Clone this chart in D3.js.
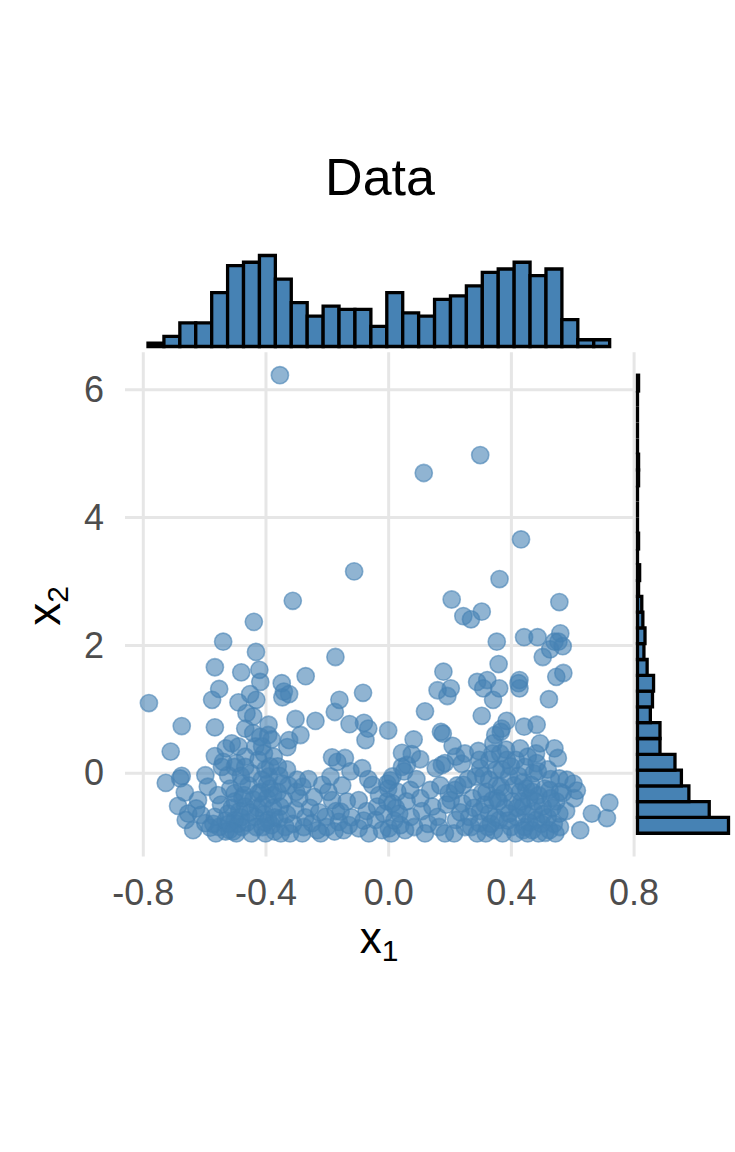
<!DOCTYPE html>
<html><head><meta charset="utf-8">
<script src="https://cdn.jsdelivr.net/npm/d3@7"></script>
<style>body{margin:0;background:#fff}</style>
</head><body>
<svg id="chart" width="735" height="1152"></svg>
<script>
const titleText = "Data";
const xTicks = [-0.8, -0.4, 0.0, 0.4, 0.8];
const xTickLabels = ["-0.8", "-0.4", "0.0", "0.4", "0.8"];
const yTicks = [0, 2, 4, 6];
const yTickLabels = ["0", "2", "4", "6"];

const pointsLeft = [
[-0.78,1.09],
[-0.725,-0.16],[-0.709,0.33],[-0.685,-0.52],
[-0.673,0.73],[-0.673,-0.05],[-0.678,-0.09],[-0.663,-0.31],[-0.652,-0.64],[-0.636,-0.90],[-0.66,-0.74],
[-0.596,-0.04],[-0.588,-0.22],[-0.62,-0.43],[-0.626,-0.56],[-0.596,-0.79],[-0.61,-0.66],[-0.58,-0.86],
[-0.565,1.65],[-0.551,1.31],[-0.574,1.14],[-0.565,0.71],[-0.565,0.26],[-0.538,2.05],[-0.538,0.17],[-0.542,0.09],[-0.565,-0.69],[-0.551,-0.85],[-0.562,-0.95],[-0.545,-0.50],[-0.53,-0.75],[-0.57,-0.80],[-0.555,-0.35],[-0.53,-0.92],[-0.529,0.38],
[-0.51,0.46],[-0.488,0.41],[-0.488,1.10],[-0.479,1.57],[-0.522,-0.04],[-0.5,0.09],[-0.5,-0.32],[-0.477,-0.17],[-0.522,-0.64],[-0.5,-0.74],[-0.518,-0.90],[-0.477,-0.85],[-0.495,-0.95],[-0.51,-0.55],[-0.485,-0.60],[-0.5,-0.45],[-0.515,-0.25],[-0.49,-0.80],[-0.475,-0.40],[-0.52,-0.80],[-0.505,-0.92],[-0.48,-0.70],[-0.495,0.15],[-0.48,-0.05],
[-0.462,0.93],[-0.44,0.88],[-0.45,1.23],[-0.43,1.14],[-0.466,0.69],[-0.44,0.62],[-0.466,0.25],[-0.433,0.41],[-0.438,2.36],[-0.431,1.89],[-0.42,1.61],[-0.466,0.09],[-0.446,-0.01],[-0.423,0.20],[-0.423,-0.32],[-0.466,-0.53],[-0.433,-0.69],[-0.446,-0.95],[-0.455,-0.20],[-0.44,-0.42],[-0.46,-0.78],[-0.43,-0.85],[-0.45,-0.62],[-0.47,-0.35],[-0.425,-0.55],
[-0.417,0.56],[-0.417,1.42],[-0.412,-0.11],[-0.391,0.59],[-0.38,0.52],[-0.411,0.41],[-0.373,0.25],[-0.389,-0.06],[-0.391,-0.74],[-0.40,-0.95],[-0.405,0.30],[-0.40,0.05],[-0.385,-0.25],[-0.395,-0.40],[-0.41,-0.50],[-0.375,-0.55],[-0.405,-0.65],[-0.38,-0.82],[-0.41,-0.85],[-0.37,-0.92],[-0.395,-0.18],[-0.375,-0.35],[-0.415,-0.30],[-0.385,0.10],[-0.37,-0.70],[-0.40,-0.78],[-0.39,0.75],
[-0.347,1.40],[-0.34,1.27],[-0.323,1.23],[-0.345,1.18],[-0.353,6.22],[-0.323,0.51],[-0.329,0.40],[-0.345,-0.17],[-0.352,-0.53],[-0.335,-0.85],[-0.36,-0.30],[-0.33,-0.65],[-0.355,-0.72],[-0.32,-0.95],[-0.35,-0.95],[-0.34,-0.42],[-0.325,-0.20],[-0.36,0.10],[-0.33,0.05],[-0.355,-0.05],
[-0.311,2.69],[-0.302,0.84],[-0.286,0.59],[-0.269,1.51],[-0.297,-0.11],[-0.28,-0.22],[-0.303,-0.58],[-0.28,-0.95],[-0.29,-0.40],[-0.31,-0.80],[-0.27,-0.70],[-0.30,-0.30],[-0.275,-0.85]
];

const pointsMiddle = [
[-0.237,0.81],[-0.242,-0.38],[-0.248,-0.79],[-0.231,-0.90],[-0.215,-0.19],[-0.255,-0.55],[-0.225,-0.62],[-0.26,-0.10],[-0.22,-0.95],
[-0.172,1.81],[-0.174,0.95],[-0.183,0.24],[-0.166,0.17],[-0.188,-0.06],[-0.183,-0.43],[-0.204,-0.69],[-0.161,-0.77],[-0.20,-0.85],[-0.175,-0.92],[-0.195,-0.30],[-0.17,-0.60],
[-0.159,1.14],[-0.141,0.23],[-0.126,0.76],[-0.123,0.02],[-0.155,-0.61],[-0.128,-0.82],[-0.111,3.15],[-0.145,-0.90],[-0.12,-0.70],[-0.135,-0.45],[-0.15,-0.20],
[-0.082,1.25],[-0.079,0.78],[-0.065,0.69],[-0.074,0.51],[-0.085,0.07],[-0.065,-0.10],[-0.096,-0.43],[-0.096,-0.87],[-0.063,-0.95],[-0.08,-0.75],[-0.07,-0.60],
[-0.052,-0.19],[-0.036,-0.53],[-0.041,-0.74],[-0.014,-0.64],[-0.02,-0.90],[-0.03,-0.35],
[0.0,0.66],[-0.003,-0.17],[-0.003,-0.45],[0.002,-0.87],[0.007,-0.12],[0.014,-0.06],[0.014,-0.48],[0.036,-0.64],[0.045,0.31],[0.045,0.09],[0.02,-0.75],[0.03,-0.30],[0.01,-0.95],[0.04,-0.82],[0.025,-0.55],[0.0,-0.25],
[0.083,0.52],[0.077,0.29],[0.061,0.12],[0.052,0.02],[0.092,-0.10],[0.072,-0.27],[0.074,-0.69],[0.06,-0.45],[0.085,-0.85],[0.055,-0.90],
[0.116,4.69],[0.12,0.96],[0.104,0.21],[0.137,-0.27],[0.144,-0.53],[0.11,-0.60],[0.13,-0.80],[0.12,-0.95],[0.105,-0.40]
];

const pointsRight = [
[0.18,1.58],[0.161,1.29],[0.193,1.20],[0.172,0.64],[0.178,0.61],[0.155,0.07],[0.175,0.12],[0.185,0.15],[0.197,-0.32],[0.161,-0.69],[0.166,-0.85],[0.19,-0.50],[0.17,-0.20],[0.185,-0.95],
[0.207,2.71],[0.245,2.45],[0.204,1.32],[0.21,0.42],[0.221,0.25],[0.24,0.14],[0.25,0.30],[0.218,-0.27],[0.225,-0.20],[0.245,-0.19],[0.204,-0.43],[0.242,-0.48],[0.221,-0.74],[0.215,-0.95],[0.235,-0.62],[0.25,-0.85],
[0.27,2.40],[0.30,4.97],[0.305,2.52],[0.29,1.42],[0.305,0.89],[0.294,0.34],[0.297,0.20],[0.30,0.07],[0.286,-0.06],[0.275,-0.40],[0.264,-0.69],[0.297,-0.79],[0.305,-0.32],[0.28,-0.55],[0.26,-0.10],[0.29,-0.95],[0.27,-0.85],[0.30,-0.60],
[0.354,2.05],[0.323,1.45],[0.31,1.32],[0.342,1.14],[0.349,0.59],[0.343,0.46],[0.351,0.04],[0.329,-0.11],[0.34,-0.43],[0.329,-0.64],[0.318,-0.95],[0.32,-0.30],[0.355,-0.20],[0.335,-0.80],[0.35,-0.70],[0.315,-0.50],[0.345,-0.90],[0.33,0.20],[0.31,-0.05],[0.355,-0.40],[0.325,-0.85],[0.34,0.30],
[0.363,3.03],[0.36,1.70],[0.362,1.32],[0.386,0.81],[0.37,0.69],[0.367,0.64],[0.365,0.30],[0.384,0.36],[0.387,0.20],[0.394,-0.06],[0.367,-0.22],[0.378,-0.32],[0.405,-0.45],[0.362,-0.74],[0.394,-0.64],[0.373,-0.95],[0.40,-0.85],[0.38,-0.55],[0.41,-0.20],[0.37,0.05],[0.39,-0.75],[0.36,-0.45],[0.40,0.10],
[0.433,3.65],[0.443,2.12],[0.428,1.45],[0.425,1.40],[0.428,1.32],[0.443,0.72],[0.43,0.38],[0.446,0.09],[0.416,0.20],[0.455,0.25],[0.439,-0.53],[0.445,-0.85],[0.43,-0.30],[0.45,-0.65],[0.42,-0.70],[0.46,-0.40],[0.415,-0.95],[0.44,-0.15],[0.455,-0.95],[0.425,-0.05],[0.46,-0.78],[0.435,-0.45],[0.42,-0.55],[0.45,-0.25],[0.44,-0.90],
[0.487,2.12],[0.504,1.81],[0.484,0.75],[0.495,0.46],[0.482,0.30],[0.484,0.15],[0.474,-0.01],[0.466,-0.19],[0.504,-0.53],[0.482,-0.74],[0.512,-0.94],[0.49,-0.35],[0.475,-0.60],[0.50,-0.80],[0.47,-0.90],[0.51,-0.25],[0.488,0.02],[0.505,-0.65],[0.48,-0.45],[0.49,-0.95],[0.47,-0.30],
[0.558,2.67],[0.561,2.18],[0.555,2.05],[0.542,2.05],[0.528,1.93],[0.548,1.50],[0.524,1.15],[0.542,0.38],[0.553,0.23],[0.558,-0.09],[0.526,-0.27],[0.558,-0.64],[0.548,-0.45],[0.526,-0.90],[0.52,-0.70],[0.54,-0.80],[0.535,-0.55],[0.56,-0.30],[0.53,-0.10],[0.545,-0.95],[0.52,0.05],[0.56,-0.85],[0.53,-0.40],
[0.569,1.98],[0.571,1.56],[0.582,-0.11],[0.604,-0.17],[0.615,-0.28],[0.607,-0.40],[0.569,-0.32],[0.58,-0.60],
[0.664,-0.64],[0.626,-0.90],
[0.721,-0.47],[0.713,-0.71]
];

// marginal histograms (counts)
const topHistCounts = [1,3,7,7,16,24,25,27,20,13,9,12,11,11,6,16,10,9,14,15,18,22,23,25,21,23,8,2,2];
const topHistRange = [-0.783, 0.722];
const rightHistCounts = [85,67,48,41,35,21,21,12,14,15,9,6,7,5,4,1,2,0,1,0,0,0,1,1,0,0,0,0,1];
const rightHistRange = [-0.948, 6.22];

const FONT = "'Liberation Sans', Arial, Helvetica, sans-serif";
const FILL = "#4682B4";
const svg = d3.select("#chart");

const panel = {left: 125, right: 634.2, top: 352.2, bottom: 856.4};
const x = d3.scaleLinear([-0.858, 0.802], [panel.left, panel.right]);
const y = d3.scaleLinear([-1.31, 6.58], [panel.bottom, panel.top]);

// grid + x axis
const gx = svg.append("g").attr("transform", `translate(0,${panel.bottom})`)
  .call(d3.axisBottom(x).tickValues(xTicks).tickFormat((d, i) => xTickLabels[i])
    .tickSize(-(panel.bottom - panel.top)));
gx.select(".domain").remove();
gx.selectAll("line").attr("stroke", "#E6E6E6").attr("stroke-width", 3);
gx.selectAll("text").attr("y", 49).attr("dy", null)
  .attr("font-family", FONT).attr("font-size", 36).attr("fill", "#4D4D4D");

const gy = svg.append("g").attr("transform", `translate(${panel.left},0)`)
  .call(d3.axisLeft(y).tickValues(yTicks).tickFormat((d, i) => yTickLabels[i])
    .tickSize(-(panel.right - panel.left)));
gy.select(".domain").remove();
gy.selectAll("line").attr("stroke", "#E6E6E6").attr("stroke-width", 3);
gy.selectAll("text").attr("x", -21).attr("dy", "0.34em")
  .attr("font-family", FONT).attr("font-size", 36).attr("fill", "#4D4D4D");
svg.selectAll(".tick").attr("font-family", null).attr("font-size", null);

// points
const allPoints = pointsLeft.concat(pointsMiddle, pointsRight);
svg.append("g").selectAll("circle").data(allPoints).join("circle")
  .attr("cx", d => x(d[0])).attr("cy", d => y(d[1])).attr("r", 8.6)
  .attr("fill", FILL).attr("fill-opacity", 0.6)
  .attr("stroke", FILL).attr("stroke-opacity", 0.6).attr("stroke-width", 1.6);

// top histogram
const topH = d3.scaleLinear([0, 27], [346.5, 255.5]);
const tw = (topHistRange[1] - topHistRange[0]) / topHistCounts.length;
svg.append("g").selectAll("path").data(topHistCounts).join("path")
  .attr("d", (c, i) => {
    const a = x(topHistRange[0] + i * tw), b = x(topHistRange[0] + (i + 1) * tw);
    return `M${a},${topH(0)}V${topH(c)}H${b}V${topH(0)}Z`;
  })
  .attr("fill", FILL).attr("stroke", "#000").attr("stroke-width", 3.3)
  .attr("stroke-linejoin", "miter");

// right histogram
const rightW = d3.scaleLinear([0, 85], [637.5, 728.5]);
const rw = (rightHistRange[1] - rightHistRange[0]) / rightHistCounts.length;
svg.append("g").selectAll("path").data(rightHistCounts).join("path")
  .attr("d", (c, i) => {
    const a = y(rightHistRange[0] + i * rw), b = y(rightHistRange[0] + (i + 1) * rw);
    return `M${rightW(0)},${a}H${rightW(c)}V${b}H${rightW(0)}Z`;
  })
  .attr("fill", FILL).attr("stroke", "#000").attr("stroke-width", 3.3)
  .attr("stroke-linejoin", "miter");

// title
svg.append("text").attr("x", 380).attr("y", 195).attr("text-anchor", "middle")
  .attr("font-family", FONT).attr("font-size", 52).attr("fill", "#000").text(titleText);

// x axis title
const xt = svg.append("text").attr("x", 379).attr("y", 953).attr("text-anchor", "middle")
  .attr("font-family", FONT).attr("font-size", 44).attr("fill", "#000");
xt.append("tspan").text("x");
xt.append("tspan").attr("font-size", 30).attr("dy", 8).text("1");

// y axis title
const yt = svg.append("text").attr("transform", "translate(60,606) rotate(-90)")
  .attr("text-anchor", "middle").attr("font-family", FONT).attr("font-size", 46).attr("fill", "#000");
yt.append("tspan").text("x");
yt.append("tspan").attr("font-size", 30).attr("dy", 8).text("2");
</script>
</body></html>
